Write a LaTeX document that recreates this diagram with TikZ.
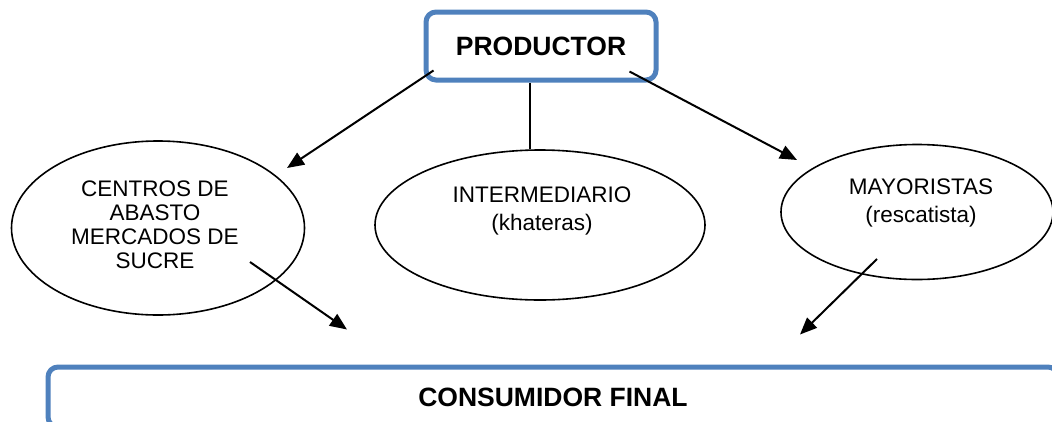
\documentclass[tikz,border=0pt]{standalone}
\usepackage{fontspec}
\setmainfont{Liberation Sans}
\definecolor{cajaazul}{RGB}{79, 129, 189}
\usetikzlibrary{shapes.geometric, arrows.meta, calc}
\tikzset{
    cajabox/.style={rectangle, rounded corners=10pt, draw=cajaazul, line width=5pt,
                    fill=white, align=center, font=\fontsize{26.5}{30}\selectfont\bfseries},
    elipse/.style={ellipse, draw=black, line width=1.6pt, inner sep=0pt},
    texto/.style={align=center, inner sep=0pt, font=\fontsize{22.5}{27.5}\selectfont},
    flecha/.style={-{Triangle[length=17pt, width=14pt]}, line width=2pt},
    linea/.style={line width=2pt},
}

\begin{document}
\begin{tikzpicture}[x=1pt, y=-1pt]
            \useasboundingbox (0,0) rectangle (1052,421);
            \clip (0,0) rectangle (1052,421);
            \node[cajabox, minimum width=230pt, minimum height=68pt] (prod) at (541,46) {PRODUCTOR};
            \node[elipse, minimum width=293pt, minimum height=174pt] (centros) at (158,228) {};
            \node[elipse, minimum width=330pt, minimum height=150pt] (inter) at (540,225) {};
            \node[elipse, minimum width=272pt, minimum height=135pt] (mayor) at (917,212) {};
            \node[texto, font=\fontsize{22.5}{24}\selectfont] (centrostxt) at (155,225) {CENTROS DE\\ABASTO\\MERCADOS DE\\SUCRE};
            \node[texto] (intertxt) at (542,211) {INTERMEDIARIO\\(khateras)};
            \node[texto] (mayortxt) at (921,203) {MAYORISTAS\\(rescatista)};
            \node[cajabox, minimum width=1010pt, minimum height=60pt] (cons) at (553,397) {CONSUMIDOR FINAL};
            \draw[flecha] ($(prod.south west)+(10,-12)$) -- ($(centros.center)+(129,-60)$);
            \draw[flecha] ($(prod.south east)+(-29,-11)$) -- ($(mayor.center)+(-120,-52)$);
            \draw[linea] ($(prod.south)+(-11,0)$) -- ($(inter.north)+(-10,0)$);
            \draw[flecha] ($(centros.center)+(92,34)$) -- ($(cons.north)+(-206,-35)$);
            \draw[flecha] ($(mayor.center)+(-40,47)$) -- ($(cons.north)+(247,-30)$);
        \end{tikzpicture}
\end{document}
